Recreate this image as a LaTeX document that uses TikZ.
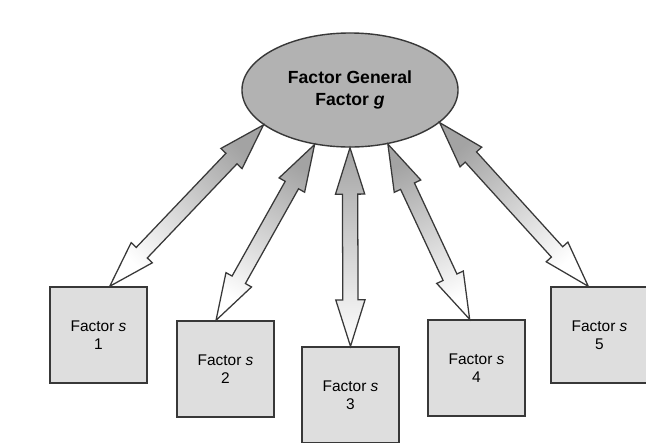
\documentclass[tikz,border=0pt]{standalone}
\usepackage{fontspec}
\setmainfont{Liberation Sans}
\usepackage{xcolor}
\usepackage{tikz}
\usetikzlibrary{shapes.geometric,shapes.arrows}
\usetikzlibrary{calc}

\definecolor{gfill}{gray}{0.70}
\definecolor{sfill}{gray}{0.87}
\definecolor{lgray}{gray}{0.64}
\definecolor{edgegray}{gray}{0.22}

\newcommand{\fatlink}[2]{%
  \path let \p1=($(#2)-(#1)$), \n1={atan2(\y1,\x1)}, \n2={veclen(\x1,\y1)}, \n3={\n1-90} in
    node[link, minimum height=\n2, rotate=\n1, shading angle=\n3] at ($(#1)!0.5!(#2)$) {};}

\begin{document}
\begin{tikzpicture}[x=0.025cm,y=-0.025cm,semithick]
  \tikzstyle{general}=[ellipse, draw=edgegray, fill=gfill, line width=1pt, minimum width=5.4cm, minimum height=2.85cm, inner sep=0pt, align=center, font=\fontsize{12.5}{15.6}\selectfont\bfseries]
  \tikzstyle{factor}=[rectangle, draw=edgegray, fill=sfill, line width=1pt, minimum width=2.425cm, minimum height=2.4cm, inner sep=0pt, align=center, font=\fontsize{11}{12.8}\selectfont]
  \tikzstyle{link}=[double arrow, draw=edgegray, line width=0.9pt, top color=lgray, bottom color=white, double arrow head extend=0.175cm, double arrow tip angle=35, inner xsep=0pt, inner ysep=0.175cm, minimum width=0pt]

  \clip (0,0) rectangle (646,442);
  \fill[white] (0,0) rectangle (646,442);

  \node[general] (g) at (350,90) {Factor General\\Factor \textit{g}};

  \node[factor] (b1) at (98.5,335) {Factor \textit{s}\\1};
  \node[factor] (b2) at (225.5,369) {Factor \textit{s}\\2};
  \node[factor] (b3) at (350.5,395) {Factor \textit{s}\\3};
  \node[factor] (b4) at (476.5,368) {Factor \textit{s}\\4};
  \node[factor] (b5) at (599.5,335) {Factor \textit{s}\\5};

  \fatlink{b1.77}{g.202}
  \fatlink{b2.101}{g.237}
  \fatlink{b3.north}{g.270}
  \fatlink{b4.98}{g.305}
  \fatlink{b5.103}{g.340}
\end{tikzpicture}
\end{document}
